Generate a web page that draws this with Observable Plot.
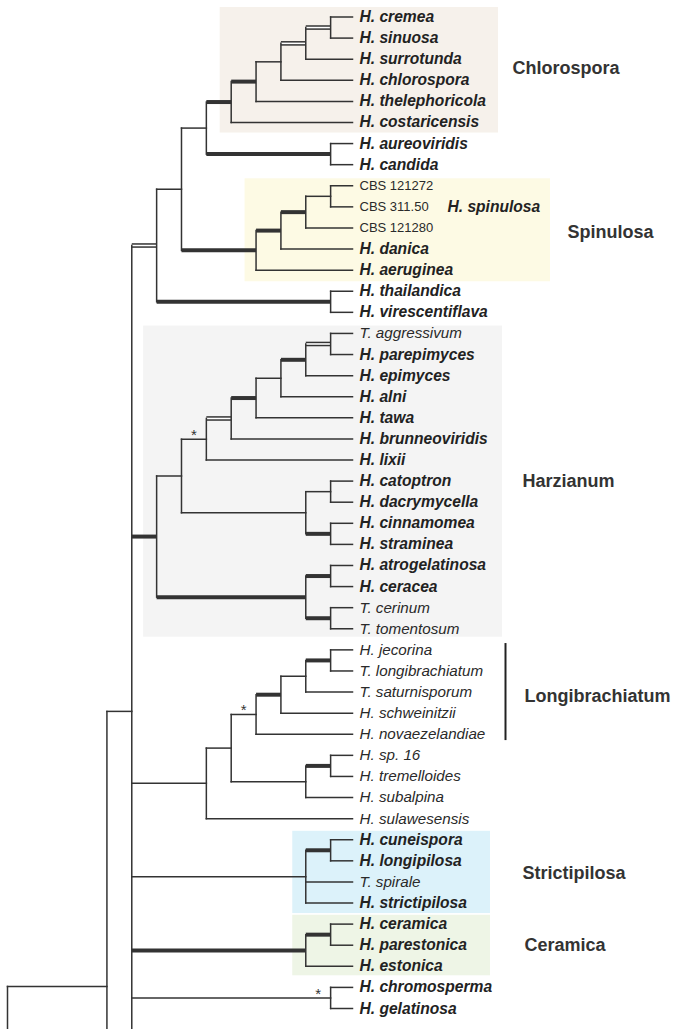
<!DOCTYPE html>
<html>
<head>
<meta charset="utf-8">
<script src="https://cdn.jsdelivr.net/npm/d3@7"></script>
<script src="https://cdn.jsdelivr.net/npm/@observablehq/plot@0.6"></script>
<style>
html, body { margin: 0; padding: 0; background: #fff; overflow: hidden; }
#chart svg { display: block; overflow: hidden; }
</style>
</head>
<body>
<div id="chart"></div>
<script>
// ---------------- DATA ----------------
// Leaves, top to bottom
const leafNames = [
  "H. cremea", "H. sinuosa", "H. surrotunda", "H. chlorospora", "H. thelephoricola", "H. costaricensis",
  "H. aureoviridis", "H. candida",
  "CBS 121272", "CBS 311.50", "CBS 121280", "H. danica", "H. aeruginea",
  "H. thailandica", "H. virescentiflava",
  "T. aggressivum", "H. parepimyces", "H. epimyces", "H. alni", "H. tawa", "H. brunneoviridis", "H. lixii",
  "H. catoptron", "H. dacrymycella", "H. cinnamomea", "H. straminea",
  "H. atrogelatinosa", "H. ceracea", "T. cerinum", "T. tomentosum",
  "H. jecorina", "T. longibrachiatum", "T. saturnisporum", "H. schweinitzii", "H. novaezelandiae",
  "H. sp. 16", "H. tremelloides", "H. subalpina", "H. sulawesensis",
  "H. cuneispora", "H. longipilosa", "T. spirale", "H. strictipilosa",
  "H. ceramica", "H. parestonica", "H. estonica",
  "H. chromosperma", "H. gelatinosa"
];
// kind of name: teleomorph species / anamorph or other name / strain number
const leafKind = [
  "tel","tel","tel","tel","tel","tel",
  "tel","tel",
  "strain","strain","strain","tel","tel",
  "tel","tel",
  "ana","tel","tel","tel","tel","tel","tel",
  "tel","tel","tel","tel",
  "tel","tel","ana","ana",
  "ana","ana","ana","ana","ana",
  "ana","ana","ana","ana",
  "tel","tel","ana","tel",
  "tel","tel","tel",
  "tel","tel"
];
const leafParent = [
  "n10","n10","n9","n8","n7","n6",
  "n11","n11",
  "n15","n15","n14","n13","n12",
  "n16","n16",
  "n24","n24","n23","n22","n21","n20","n19",
  "n26","n26","n27","n27",
  "n29","n29","n30","n30",
  "n36","n36","n35","n34","n33",
  "n38","n38","n37","n31",
  "n40","n40","n39","n39",
  "n42","n42","n41",
  "n43","n43"
];
// Internal nodes: id, parent, depth (cladogram level), support class
const nodeIds     = ["n0","n1","n2","n3","n4","n5","n6","n7","n8","n9","n10","n11","n12","n13","n14","n15","n16",
                     "n17","n18","n19","n20","n21","n22","n23","n24","n25","n26","n27","n28","n29","n30",
                     "n31","n32","n33","n34","n35","n36","n37","n38","n39","n40","n41","n42","n43"];
const nodeParent  = [null,"n0","n1","n2","n3","n4","n5","n6","n7","n8","n9","n5","n4","n12","n13","n14","n3",
                     "n2","n17","n18","n19","n20","n21","n22","n23","n18","n25","n25","n17","n28","n28",
                     "n2","n31","n32","n33","n34","n35","n32","n37","n2","n39","n2","n41","n2"];
const nodeDepth   = [-3,1,2,3,4,5,6,7,8,9,10,10,7,8,9,10,10,
                     3,4,5,6,7,8,9,10,9,10,10,9,10,10,
                     5,6,7,8,9,10,9,10,9,10,9,10,10];
const nodeSupport = ["low","low","low","mid","low","low","high","high","low","mid","mid","high","high","high","high","low","high",
                     "high","low","low","mid","high","low","high","mid","low","low","high","high","high","high",
                     "low","low","low","high","low","high","low","high","low","high","high","high","low"];
const starredNodes = ["n19","n33","n43"];
// branches that continue beyond the lower edge of the figure
const cutParent = ["n2","n1","n0"];
const cutRow    = [55, 59, 62];

// clades
const cladeNames = ["Chlorospora","Spinulosa","Harzianum","Longibrachiatum","Strictipilosa","Ceramica"];
const cladeFirst = ["H. cremea","CBS 121272","T. aggressivum","H. jecorina","H. cuneispora","H. ceramica"];
const cladeLast  = ["H. costaricensis","H. aeruginea","T. tomentosum","H. novaezelandiae","H. strictipilosa","H. estonica"];
const cladeNode  = ["n6","n12","n17",null,"n39","n41"];
const speciesGroupName = ["H. spinulosa"];
const speciesGroupRow  = ["CBS 311.50"];

// ---------------- LAYOUT / STYLE ----------------
const TIP = 10.88;                 // depth where all terminal branches end
const INK = "#333333";
const FONT = "'Liberation Sans', Arial, Helvetica, sans-serif";
const cladeStyle = {
  "Chlorospora":     {fill: "#f6f1eb", padL: 11, padR: 146, padT: 0.45, padB: 0.5, labelDx: 160, labelDy: -2},
  "Spinulosa":       {fill: "#fdfae4", padL: 11, padR: 198, padT: 0.33, padB: 0.55, labelDx: 215, labelDy: 4},
  "Harzianum":       {fill: "#f4f4f4", padL: 13, padR: 150, padT: 0.35, padB: 0.4, labelDx: 170, labelDy: 0},
  "Longibrachiatum": {bar: true, barDx: 153, labelDx: 172, labelDy: 4},
  "Strictipilosa":   {fill: "#dcf2fa", padL: 13, padR: 138, padT: 0.4, padB: 0.5, labelDx: 170, labelDy: 2},
  "Ceramica":        {fill: "#eef5e6", padL: 13, padR: 138, padT: 0.42, padB: 0.45, labelDx: 172, labelDy: 0}
};

// ---------------- TREE BUILD ----------------
const rowOf = new Map(leafNames.map((n, i) => [n, i]));
const nodes = new Map();
nodeIds.forEach((id, i) => nodes.set(id, {id, parent: nodeParent[i], depth: nodeDepth[i], support: nodeSupport[i], children: []}));
const leaves = leafNames.map((name, i) => ({id: name, name, parent: leafParent[i], depth: TIP, row: i, kind: leafKind[i], support: "low"}));
const cuts = cutParent.map((p, i) => ({id: "cut" + i, parent: p, depth: nodes.get(p).depth + 1, row: cutRow[i], support: "low"}));
const all = [...nodes.values(), ...leaves, ...cuts];
for (const n of all) if (n.parent) nodes.get(n.parent).children.push(n);
function place(n) {
  if (n.row !== undefined) return n.row;
  const rows = n.children.map(place);
  n.lo = Math.min(...rows); n.hi = Math.max(...rows);
  n.row = (n.lo + n.hi) / 2;
  return n.row;
}
place(nodes.get("n0"));

const hseg = all.filter(n => n.parent).map(n => ({x1: nodes.get(n.parent).depth, x2: n.depth, y: n.row, support: n.support}));
const vseg = [...nodes.values()].map(n => ({x: n.depth, y1: n.lo, y2: n.hi}));
const stars = starredNodes.map(id => ({x: nodes.get(id).depth - 0.5, y: nodes.get(id).row}));

// ---------------- MARKS ----------------
const marks = [];
cladeNames.forEach((c, i) => {
  const s = cladeStyle[c];
  if (s.bar || !cladeNode[i]) return;
  marks.push(Plot.rect([c], {
    x1: () => nodes.get(cladeNode[i]).depth, x2: () => TIP,
    y1: () => rowOf.get(cladeFirst[i]) - s.padT, y2: () => rowOf.get(cladeLast[i]) + s.padB,
    fill: s.fill, insetLeft: -s.padL, insetRight: -s.padR
  }));
});

const lineOpts = {x1: "x1", x2: "x2", y1: "y", y2: "y", stroke: INK};
marks.push(
  Plot.link(hseg.filter(d => d.support === "high"), {...lineOpts, strokeWidth: 4}),
  Plot.link(hseg.filter(d => d.support === "mid"), {...lineOpts, strokeWidth: 4.6}),
  Plot.link(hseg.filter(d => d.support === "mid"), {...lineOpts, stroke: "white", strokeWidth: 1.6}),
  Plot.link(vseg, {x1: "x", x2: "x", y1: "y1", y2: "y2", stroke: INK, strokeWidth: 1.5, strokeLinecap: "square"}),
  Plot.link(hseg.filter(d => d.support === "low"), {...lineOpts, strokeWidth: 1.5, strokeLinecap: "square"})
);

// leaf labels
const labelBase = {x: "depth", y: "row", text: "name", textAnchor: "start", dx: 7, fontFamily: FONT, fill: "#222"};
marks.push(
  Plot.text(leaves.filter(d => d.kind === "tel"), {...labelBase, fontSize: 15.6, fontWeight: "bold", fontStyle: "italic"}),
  Plot.text(leaves.filter(d => d.kind === "ana"), {...labelBase, fontSize: 15.2, fontStyle: "italic", fill: "#2a2a2a"}),
  Plot.text(leaves.filter(d => d.kind === "strain"), {...labelBase, fontSize: 13, fill: "#2a2a2a"})
);
// species group label
marks.push(Plot.text(speciesGroupName.map((n, i) => ({n, row: rowOf.get(speciesGroupRow[i])})), {
  x: () => TIP, y: "row", text: "n", dx: 95, textAnchor: "start", fontFamily: FONT,
  fontSize: 15.6, fontWeight: "bold", fontStyle: "italic", fill: "#222"
}));
// asterisks
marks.push(Plot.text(stars, {x: "x", y: "y", text: () => "*", lineAnchor: "bottom", dy: 1, fontSize: 15, fontFamily: FONT, fill: INK}));

// clade labels and bar
cladeNames.forEach((c, i) => {
  const s = cladeStyle[c];
  const a = rowOf.get(cladeFirst[i]), b = rowOf.get(cladeLast[i]);
  if (s.bar) {
    marks.push(Plot.ruleX([c], {x: () => TIP, y1: () => a - 0.3, y2: () => b + 0.3, dx: s.barDx, stroke: "#222", strokeWidth: 2}));
  }
  marks.push(Plot.text([c], {x: () => TIP, y: () => (a + b) / 2, text: d => d, dx: s.labelDx, dy: s.labelDy,
    textAnchor: "start", fontFamily: FONT, fontSize: 18, fontWeight: "bold", fill: "#333"}));
});

const chart = Plot.plot({
  width: 680,
  height: 1029,
  margin: 0,
  x: {type: "linear", domain: [-3, TIP], range: [7, 352], axis: null},
  y: {type: "linear", domain: [0, 47], range: [16.5, 1008], axis: null},
  style: {background: "white", overflow: "hidden"},
  marks
});
document.getElementById("chart").appendChild(chart);
</script>
</body>
</html>
